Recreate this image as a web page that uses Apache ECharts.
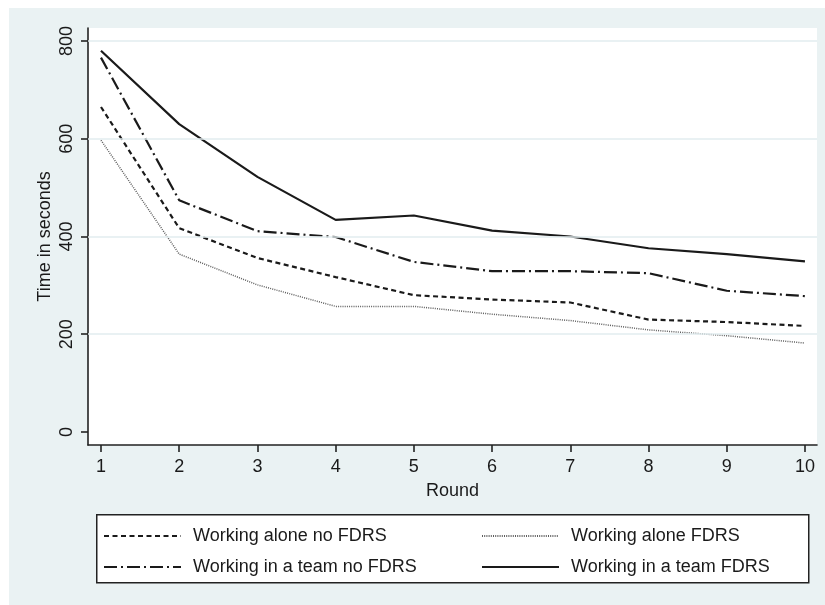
<!DOCTYPE html>
<html>
<head>
<meta charset="utf-8">
<script src="https://cdn.jsdelivr.net/npm/echarts@6/dist/echarts.min.js"></script>
<style>
  body { margin: 0; background: #fff; }
  #bg { position: absolute; left: 9px; top: 8px; width: 816px; height: 597px; background: #eaf2f3; }
  #chart { position: absolute; left: 0; top: 0; width: 825px; height: 605px; }
</style>
</head>
<body>
<div id="bg"></div>
<div id="chart"></div>
<script>
// rounds on the x axis
const rounds = [1, 2, 3, 4, 5, 6, 7, 8, 9, 10]
const yTicks = [0, 200, 400, 600, 800]
const gridValues = [200, 400, 600, 800]

// time in seconds per round
const aloneNoFdrs = [665, 417, 356, 317, 280, 271, 265, 230, 225, 217]
const aloneFdrs   = [597, 364, 301, 257, 257, 241, 228, 209, 197, 182]
const teamNoFdrs  = [766, 474, 411, 399, 348, 329, 329, 325, 289, 278]
const teamFdrs    = [780, 630, 522, 434, 443, 412, 400, 376, 364, 349]

const names = [
  'Working alone no FDRS',
  'Working alone FDRS',
  'Working in a team no FDRS',
  'Working in a team FDRS'
]

const font = 'Liberation Sans, Arial, sans-serif'
const ink = '#1a1a1a'

const pairs = (vals) => rounds.map((r, i) => [r, vals[i]])

const mkLegend = (name, left, top) => ({
  data: [name],
  left: left,
  top: top,
  orient: 'horizontal',
  itemWidth: 77,
  itemHeight: 14,
  padding: 0,
  selectedMode: false,
  itemStyle: { opacity: 0 },
  textStyle: { fontFamily: font, fontSize: 18, color: ink, padding: [0, 0, 0, 7] }
})

const chart = echarts.init(document.getElementById('chart'))
chart.setOption({
  animation: false,
  grid: {
    left: 88, top: 28, width: 729, height: 417,
    show: true, backgroundColor: '#fff', borderWidth: 0
  },
  graphic: [{
    type: 'rect', left: 96, top: 514, z: -1,
    shape: { width: 712, height: 68 },
    style: { fill: '#fff', stroke: '#222', lineWidth: 1.5 }
  }],
  legend: [
    mkLegend(names[0], 103, 527),
    mkLegend(names[1], 481, 527),
    mkLegend(names[2], 103, 558),
    mkLegend(names[3], 481, 558)
  ],
  xAxis: {
    type: 'value', min: 0.834, max: 10.154,
    name: 'Round', nameLocation: 'middle', nameGap: 37,
    nameTextStyle: { fontFamily: font, fontSize: 18, color: ink },
    axisLine: { show: true, onZero: false, lineStyle: { color: '#222', width: 1.6 } },
    axisTick: { show: true, length: 7, customValues: rounds, lineStyle: { color: '#222', width: 1.6 } },
    axisLabel: { customValues: rounds, margin: 13, fontFamily: font, fontSize: 18, color: ink },
    splitLine: { show: false }
  },
  yAxis: {
    type: 'value', min: -26.6, max: 826.6,
    name: 'Time in seconds', nameLocation: 'middle', nameGap: 34, nameRotate: 90,
    nameMoveOverlap: false,
    nameTextStyle: { fontFamily: font, fontSize: 18, color: ink },
    axisLine: { show: true, onZero: false, lineStyle: { color: '#222', width: 1.6 } },
    axisTick: { show: true, length: 7, customValues: yTicks, lineStyle: { color: '#222', width: 1.6 } },
    axisLabel: { customValues: yTicks, rotate: 90, margin: 12, fontFamily: font, fontSize: 18, color: ink },
    splitLine: { show: false }
  },
  series: [
    {
      name: names[0], type: 'line', data: pairs(aloneNoFdrs), symbol: 'none',
      itemStyle: { opacity: 0 },
      lineStyle: { color: ink, width: 2.2, type: [5, 3.5] },
      markLine: {
        silent: true, symbol: 'none', label: { show: false },
        lineStyle: { color: '#e2edef', width: 1.5, type: 'solid' },
        data: gridValues.map(v => ({ yAxis: v }))
      },
      z: 3
    },
    {
      name: names[1], type: 'line', data: pairs(aloneFdrs), symbol: 'none',
      itemStyle: { opacity: 0 },
      lineStyle: { color: '#5e5e5e', width: 1.5, type: [1, 1.2] },
      z: 3
    },
    {
      name: names[2], type: 'line', data: pairs(teamNoFdrs), symbol: 'none',
      itemStyle: { opacity: 0 },
      lineStyle: { color: ink, width: 2.2, type: [13, 4, 2, 4] },
      z: 3
    },
    {
      name: names[3], type: 'line', data: pairs(teamFdrs), symbol: 'none',
      itemStyle: { opacity: 0 },
      lineStyle: { color: ink, width: 2.2 },
      z: 3
    }
  ]
})
</script>
</body>
</html>
